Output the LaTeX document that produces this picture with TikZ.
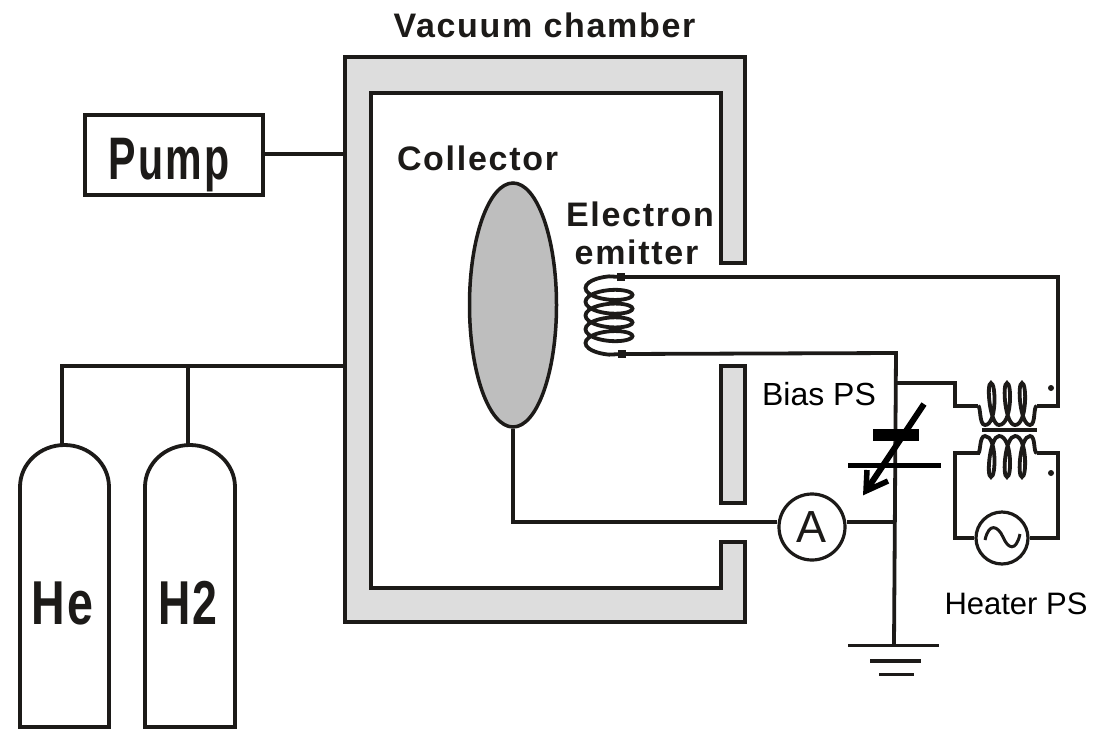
\documentclass[tikz,border=0pt]{standalone}
\usepackage{fontspec}
\usetikzlibrary{shapes.geometric}
\setmainfont{Liberation Sans}
\newcommand{\lblfont}{\fontsize{31}{31}\selectfont}
\newcommand{\boldlbl}{\fontsize{34}{34}\selectfont\bfseries\addfontfeatures{LetterSpace=5}}
\newcommand{\narrow}[3]{\scalebox{#1}[1]{\fontsize{#2}{#2}\selectfont\bfseries\addfontfeatures{LetterSpace=6}#3}}
\definecolor{wallgray}{HTML}{DDDDDD}
\definecolor{collgray}{HTML}{BEBEBE}
\definecolor{ink}{HTML}{1C1A18}
\newcommand{\tcoil}[3]{% valley y, peak y, lead y
 (978,#3) .. controls (981,#3) and (979,#1) .. (985,#1)
 .. controls (997,#1) and (996,#2) .. (991,#2) .. controls (986,#2) and (990,#1) .. (999,#1)
 .. controls (1012,#1) and (1012,#2) .. (1007,#2) .. controls (1002,#2) and (1005,#1) .. (1015,#1)
 .. controls (1027,#1) and (1027,#2) .. (1022,#2) .. controls (1017,#2) and (1020,#1) .. (1030,#1)
 .. controls (1036,#1) and (1033,#3) .. (1037,#3)}
\tikzset{
 x=1pt,y=-1pt,
 wire/.style={draw=ink,line width=3.8pt,line join=miter},
 wall/.style={draw=ink,line width=3.8pt,fill=wallgray,line join=miter},
 boxed/.style={draw=ink,line width=4pt,fill=white,inner sep=0pt},
 plain/.style={inner sep=0pt,text=black,anchor=base},
 strong/.style={inner sep=0pt,text=ink,anchor=base},
 meter/.style={circle,draw=ink,line width=3.2pt,fill=white,inner sep=0pt,text=ink},
 terminal/.style={fill=ink,inner sep=0pt,minimum size=8pt},
}
\begin{document}
\begin{tikzpicture}
\useasboundingbox (0,0) rectangle (1096,729);
\fill[white] (0,0) rectangle (1096,729);

% chamber
\path[wall] (745,263) -- (745,57) -- (345,57) -- (345,622) -- (745,622) -- (745,542) -- (721,542) -- (721,588) -- (371,588) -- (371,93) -- (721,93) -- (721,263) -- cycle;
\path[wall] (721,366) rectangle (745,503);
\coordinate (wallP) at (345,154);
\coordinate (wallG) at (345,366);

% pump
\node[boxed,minimum width=178pt,minimum height=80pt] (pump) at (174,154.5) {};
\node[strong] (pumplbl) at (169,179) {\narrow{0.685}{60}{Pump}};
\draw[wire] (pump.east |- wallP) -- (wallP);

% cylinders
\coordinate (cylA) at (62,445);
\coordinate (cylB) at (188,445);
\draw[wire] (20,727) -- (20,487) arc[start angle=180,end angle=360,x radius=44.5,y radius=42] -- (109,727) -- cycle;
\draw[wire] (145,727) -- (145,487) arc[start angle=180,end angle=360,x radius=45,y radius=42] -- (235,727) -- cycle;
\node[strong] (he) at (62.5,624) {\narrow{0.75}{62}{He}};
\node[strong] (h2) at (188,624) {\narrow{0.72}{62}{H2}};
\coordinate (pipeL) at (62,366);
\coordinate (pipeM) at (188,366);
\draw[wire] (cylA) -- (pipeL) -- (wallG);
\draw[wire] (cylB) -- (pipeM);

% collector
\node[ellipse,draw=ink,line width=3.5pt,fill=collgray,minimum width=87pt,minimum height=244pt,inner sep=0pt] (coll) at (513,305) {};
\node[strong] (colllbl) at (477.5,170) {\boldlbl Collector};
\node[strong] (elbl) at (640,226.5) {\boldlbl Electron};
\node[strong] (emlbl) at (636.5,264) {\boldlbl emitter};
\node[strong] (vaclbl) at (544.5,37) {\boldlbl Vacuum chamber};

% emitter coil
\node[terminal] (t1) at (621,277) {};
\node[terminal] (t2) at (622,354) {};
\draw[draw=ink,line width=3.8pt,smooth] (t1.center) -- plot[domain=90:1710,samples=109,variable=\t] ({609+23.5*cos(\t)},{288+(\t-180)*0.0382-8.2*sin(\t)}) -- (t2.center);

% ammeter, sources
\node[meter,minimum size=66pt] (amm) at (812,527) {\fontsize{45}{45}\selectfont A};
\node[meter,minimum size=52pt] (ac) at (1002,538) {};
\draw[draw=ink,line width=3pt] (985,540) .. controls (989,522) and (998,526) .. (1003,537) .. controls (1008,549) and (1016,552) .. (1020,534);

% wires
\coordinate (jTop) at (896,353);
\coordinate (jBias) at (896,383);
\coordinate (jAmm) at (895,522);
\coordinate (jGnd) at (894,645);
\coordinate (emR) at (1058,277);
\draw[wire] (t1.center) -- (emR) -- (1058,406) -- (1037,406);
\draw[wire] (t2.center) -- (jTop) -- (jGnd);
\draw[wire] (jBias) -- (955,383) -- (955,406) -- (978,406);
\draw[wire] (coll.south) -- (513,522) -- (amm.west |- 0,522);
\draw[wire] (amm.east |- 0,522) -- (jAmm);
\draw[wire] (980,453) -- (955,453) -- (955,538) -- (ac.west);
\draw[wire] (1037,453) -- (1058,453) -- (1058,538) -- (ac.east);

% transformer
\draw[draw=ink,line width=3.8pt] \tcoil{425}{383}{406};
\draw[draw=ink,line width=3.8pt] \tcoil{436}{477}{453};
\draw[draw=ink,line width=4.5pt] (982,430) -- (1037,430);
\fill[ink] (1051,388) circle (3pt);
\fill[ink] (1051,473) circle (3pt);

% bias capacitor and arrow
\fill[black] (873,429) rectangle (919,441);
\fill[black] (848,462.5) rectangle (941,468);
\draw[black,line width=6pt] (924,404) -- (868,488);
\draw[black,line width=5.5pt,line cap=butt,line join=miter] (867,470) -- (866,491) -- (888,481);

% ground
\draw[wire] (848,645.5) -- (939,645.5);
\draw[wire] (870,661) -- (921,661);
\draw[wire] (879,674.5) -- (914,674.5);

% plain labels
\node[plain] (bias) at (819,405) {\fontsize{32}{32}\selectfont Bias PS};
\node[plain] (heat) at (1016,614) {\lblfont Heater PS};
\end{tikzpicture}
\end{document}
